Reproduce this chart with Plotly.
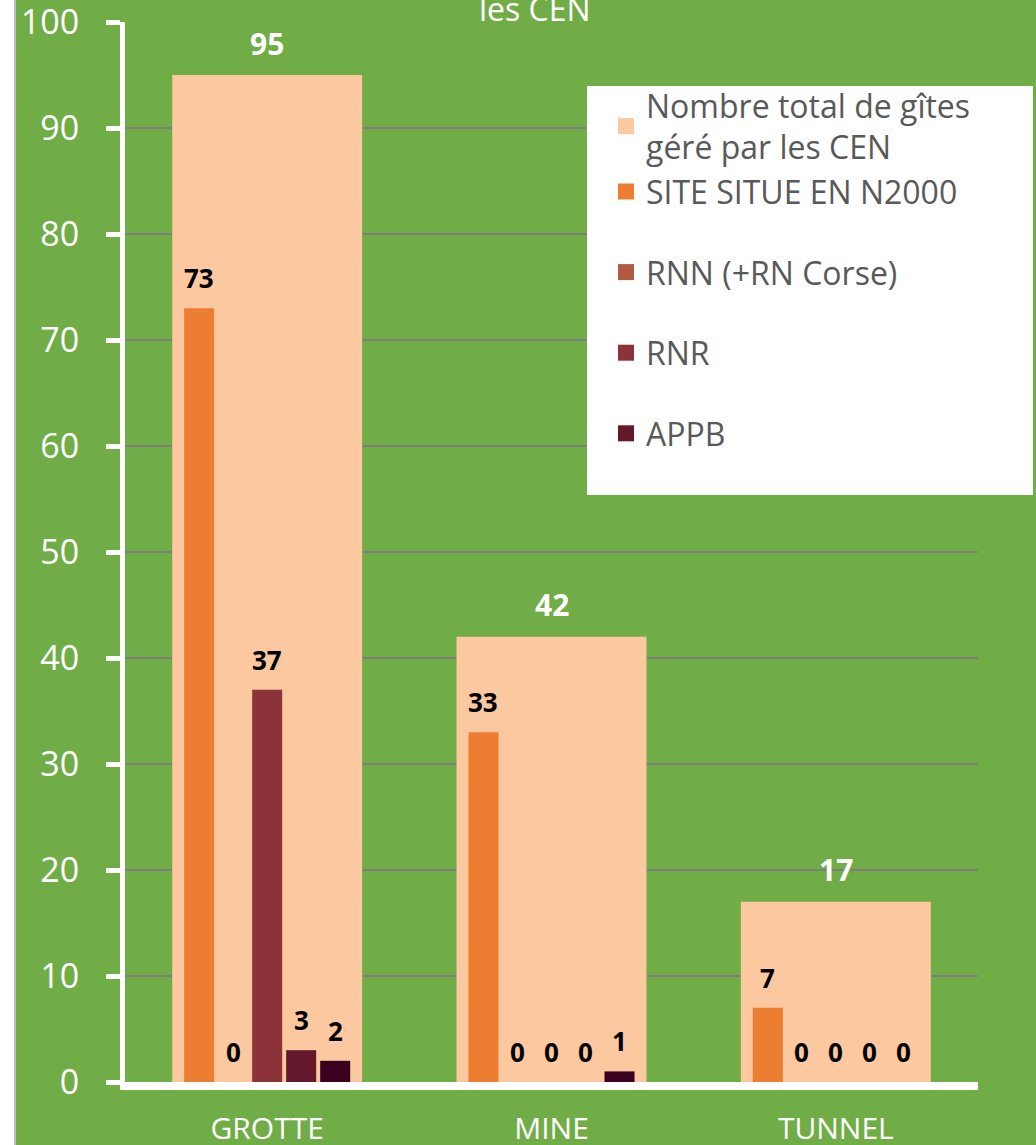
import plotly.graph_objects as go

categories = ["GROTTE", "MINE", "TUNNEL"]
total_gites = [95, 42, 17]
site_n2000 = [73, 33, 7]
rnn_corse = [0, 0, 0]
rnr = [37, 0, 0]
appb = [3, 0, 0]
autre = [2, 1, 0]

y_ticks = [0, 10, 20, 30, 40, 50, 60, 70, 80, 90, 100]

total_name = "Nombre total de gîtes<br>géré par les CEN"
total_color = "#FBC8A0"
small_series = [
    ("SITE SITUE EN N2000", site_n2000, "#ED7D31", True),
    ("RNN (+RN Corse)", rnn_corse, "#B35B40", True),
    ("RNR", rnr, "#8B3338", True),
    ("APPB", appb, "#63182C", True),
    ("Autre", autre, "#3A0020", False),
]

GREEN = "#70AD47"
FONT = "Open Sans"

fig = go.Figure()

total_w = 0.668
fig.add_trace(go.Bar(
    x=categories, y=total_gites, name=total_name,
    marker=dict(color=total_color, line=dict(width=0)),
    width=total_w, offset=-total_w / 2, legendgroup="g0", showlegend=False,
))

bw = 0.1055
slot = 0.1196
offsets = []
for i, (name, vals, col, show) in enumerate(small_series):
    c = (i - 2) * slot
    offsets.append(c)
    fig.add_trace(go.Bar(
        x=categories, y=vals, name=name,
        marker=dict(color=col, line=dict(width=0)),
        width=bw, offset=c - bw / 2, showlegend=False,
        legendgroup="g0" if i == 0 else "g%d" % (i + 1),
    ))

# legend entries with larger square swatches (linked to the bar traces by legendgroup)
legend_entries = [(total_name, total_color, "g0")] + [
    (name, col, "g0" if i == 0 else "g%d" % (i + 1))
    for i, (name, vals, col, show) in enumerate(small_series) if show
]
for name, col, grp in legend_entries:
    fig.add_trace(go.Scatter(
        x=[None], y=[None], mode="markers", name=name, legendgroup=grp,
        marker=dict(symbol="square", size=20, color=col), showlegend=True,
    ))

annotations = []
for j, v in enumerate(total_gites):
    annotations.append(dict(
        x=j, y=v, xref="x", yref="y", text="<b>%d</b>" % v, showarrow=False,
        yanchor="middle", yshift=32, font=dict(family=FONT, size=30, color="white"),
    ))
for i, (name, vals, col, show) in enumerate(small_series):
    for j, v in enumerate(vals):
        annotations.append(dict(
            x=j + offsets[i], y=v, xref="x", yref="y", text="<b>%d</b>" % v,
            showarrow=False, yanchor="middle", yshift=30,
            font=dict(family=FONT, size=26, color="black"),
        ))

# partially visible title line
annotations.append(dict(
    x=(535 - 125) / 853, y=(1082 - 32) / 1060, xref="paper", yref="paper", text="les CEN",
    showarrow=False, xanchor="center", yanchor="bottom",
    font=dict(family=FONT, size=32, color="white"),
))

shapes = [
    # legend background box
    dict(type="rect", xref="paper", yref="paper",
         x0=(587 - 125) / 853, x1=(1033 - 125) / 853,
         y0=(1082 - 495) / 1060, y1=(1082 - 86) / 1060,
         fillcolor="white", line=dict(width=0), layer="above"),
    # white strip at left edge
    dict(type="rect", xref="paper", yref="paper",
         x0=(-5 - 125) / 853, x1=(15 - 125) / 853, y0=-0.1, y1=1.1,
         fillcolor="white", line=dict(color="#BFBFBF", width=2), layer="above"),
]

fig.update_layout(
    width=1036, height=1145,
    margin=dict(l=125, r=58, t=22, b=63, autoexpand=False),
    paper_bgcolor=GREEN, plot_bgcolor=GREEN,
    barmode="overlay",
    showlegend=True,
    legend=dict(
        x=(606 - 125) / 853, y=(1082 - 78) / 1060, xanchor="left", yanchor="top",
        bgcolor="rgba(255,255,255,0)", borderwidth=0,
        font=dict(family=FONT, size=32, color="#595959"),
        traceorder="grouped", tracegroupgap=36, itemsizing="trace",
    ),
    annotations=annotations,
    shapes=shapes,
    xaxis=dict(
        type="category", showgrid=False, zeroline=False, automargin=False,
        showline=True, linecolor="white", linewidth=8,
        ticks="", ticklabelstandoff=13, range=[-0.5, 2.5],
        tickfont=dict(family=FONT, size=30, color="white"),
    ),
    yaxis=dict(
        range=[0, 100], tickvals=y_ticks, showgrid=True, automargin=False,
        gridcolor="#7F7F7F", gridwidth=1.5, zeroline=False,
        showline=True, linecolor="white", linewidth=5,
        ticks="outside", ticklen=14, tickwidth=5, tickcolor="white",
        ticklabelstandoff=20, ticklabeloverflow="allow",
        tickfont=dict(family=FONT, size=34, color="white"),
    ),
)

fig.write_html(
    "out.html",
    config={"displayModeBar": False},
    post_script="document.body.style.margin='0';document.body.style.padding='0';",
)
